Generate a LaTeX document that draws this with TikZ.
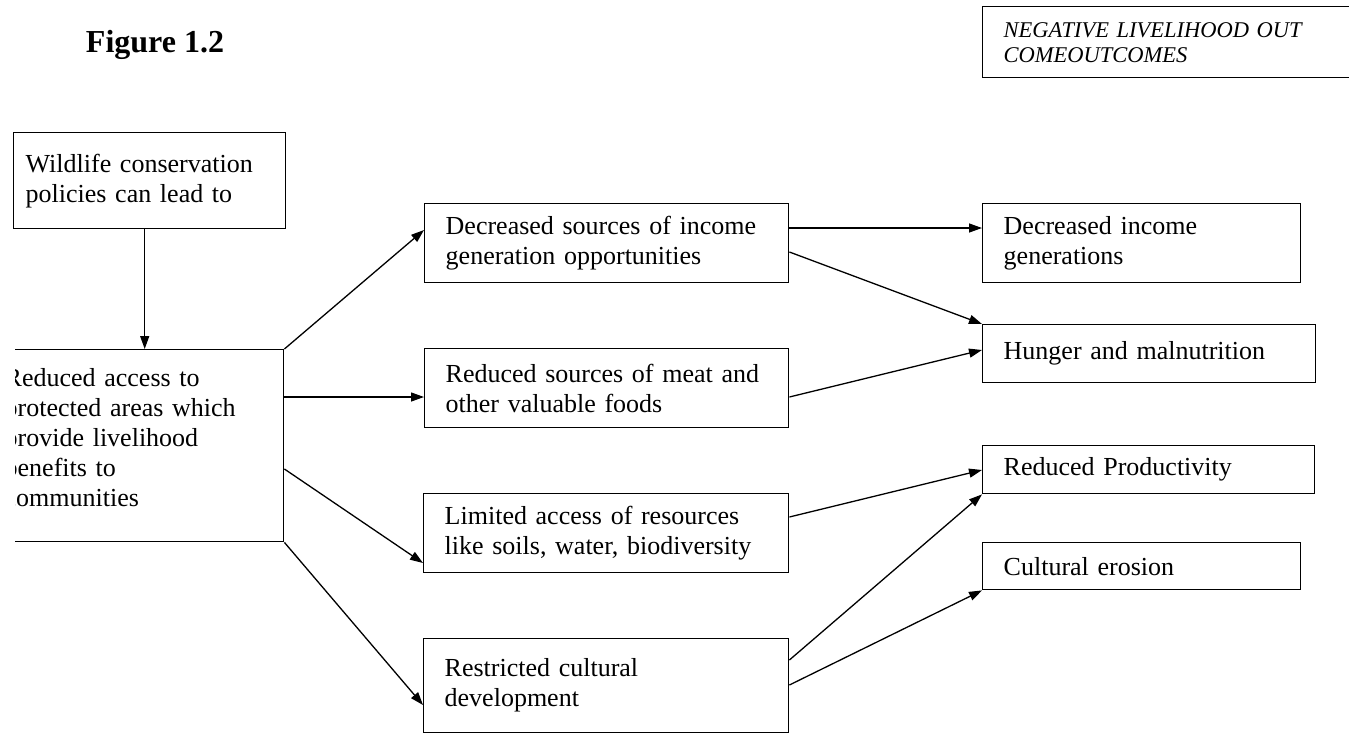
\documentclass[tikz,border=0pt]{standalone}
\usepackage{fontspec}
\setmainfont{Liberation Serif}
\usetikzlibrary{arrows.meta,positioning}

\begin{document}
\begin{tikzpicture}[
  x=1pt,y=-1pt,
  flowbox/.style={draw,line width=1.4pt,anchor=north west,align=left,
    inner xsep=21pt,inner ysep=0pt,font=\fontsize{26}{30}\selectfont},
  arr/.style={-{Triangle[length=13pt,width=9pt]},line width=1.3pt},
  heading/.style={font=\fontsize{32}{38}\selectfont\bfseries}
]
  \useasboundingbox (0,0) rectangle (1349,734);
  % Title and outcome label
  \node[heading,anchor=base] (fig) at (155,52) {Figure 1.2};
  \node[flowbox,font=\fontsize{22.5}{25}\selectfont\itshape,text width=336pt,minimum height=71pt] (outc) at (982,6) {NEGATIVE LIVELIHOOD OUT\\COMEOUTCOMES};
  % Causes
  \node[flowbox,inner xsep=12pt,text width=248pt,minimum height=96pt] (wild) at (13,132) {Wildlife conservation\\policies can lead to};
  \begin{scope}
    \clip (15,340) rectangle (300,560);
    \node[flowbox,text width=258pt,minimum height=192pt] (redacc) at (-17,349) {Reduced access to\\protected areas which\\provide livelihood\\benefits to\\communities\\[-14pt]\mbox{}};
  \end{scope}
  % Effects
  \node[flowbox,text width=322pt,minimum height=79pt] (dec) at (424,203) {Decreased sources of income\\generation opportunities};
  \node[flowbox,text width=322pt,minimum height=79pt] (meat) at (424,348) {Reduced sources of meat and\\other valuable foods};
  \node[flowbox,text width=323pt,minimum height=79pt] (lim) at (423,493) {Limited access of resources\\like soils, water, biodiversity};
  \node[flowbox,text width=323pt,minimum height=94pt] (restr) at (423,638) {Restricted cultural\\development};
  % Outcomes
  \node[flowbox,text width=276pt,minimum height=79pt] (decinc) at (982,203) {Decreased income\\generations};
  \node[flowbox,text width=291pt,minimum height=58pt] (hunger) at (982,324) {Hunger and malnutrition};
  \node[flowbox,text width=290pt,minimum height=48pt] (prod) at (982,445) {Reduced Productivity};
  \node[flowbox,text width=276pt,minimum height=47pt] (cult) at (982,542) {Cultural erosion};
  % Arrows
  \draw[arr] ([xshift=-5pt]wild.south) -- ([xshift=-5pt]wild.south |- redacc.north);
  \draw[arr] (redacc.north east) -- ([yshift=-27pt]dec.north west);
  \draw[arr] ([yshift=-48pt]redacc.north east) -- ([yshift=-49pt]meat.north west);
  \draw[arr] ([yshift=-120pt]redacc.north east) -- ([yshift=-70pt]lim.north west);
  \draw[arr] (redacc.south east) -- ([yshift=-67pt]restr.north west);
  \draw[arr] ([yshift=-25pt]dec.north east) -- ([yshift=-25pt]decinc.north west);
  \draw[arr] ([yshift=-49pt]dec.north east) -- (hunger.north west);
  \draw[arr] ([yshift=-49pt]meat.north east) -- ([yshift=-26pt]hunger.north west);
  \draw[arr] ([yshift=-24pt]lim.north east) -- ([yshift=-25pt]prod.north west);
  \draw[arr] ([yshift=-22pt]restr.north east) -- (prod.south west);
  \draw[arr] ([yshift=-47pt]restr.north east) -- (cult.south west);
\end{tikzpicture}
\end{document}
